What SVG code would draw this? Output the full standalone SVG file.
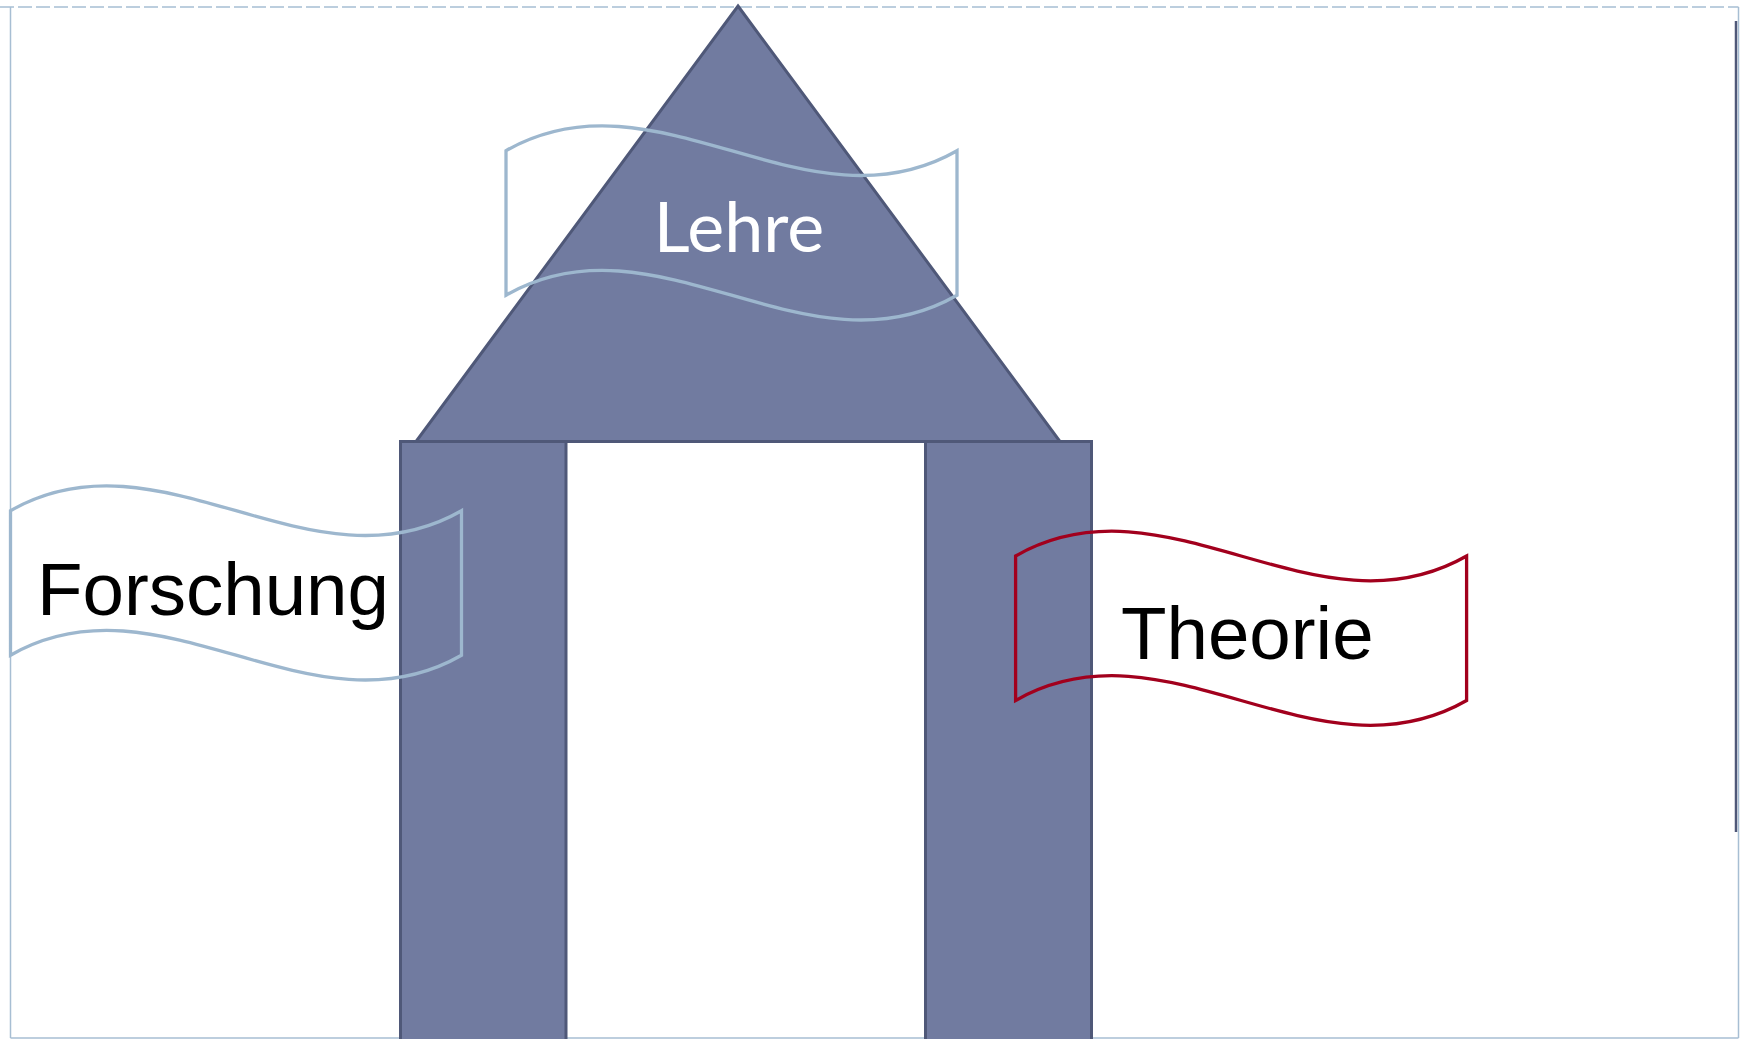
<svg xmlns="http://www.w3.org/2000/svg" width="1740" height="1039" viewBox="0 0 1740 1039">
<style>
.frame{fill:none;stroke:#A7BED3;stroke-width:1.5}
.block{fill:#717BA0;stroke:#4F5878;stroke-width:3;stroke-linejoin:miter}
.wave{fill:none;stroke-width:3.3;stroke-linejoin:miter}
.light{stroke:#9DB7CE}
.red{stroke:#A2001D}
.lbl{font-family:"Liberation Sans",Arial,sans-serif;font-size:74.5px;fill:#000}
.lbl-w{font-family:Lato,"Liberation Sans",sans-serif;font-size:70px;fill:#fff;text-anchor:middle}
</style>
<rect width="1740" height="1039" fill="#fff"/>
<g id="frame">
<line x1="10.5" y1="7" x2="10.5" y2="1038" class="frame"/>
<line x1="10.5" y1="1038" x2="1738.5" y2="1038" class="frame"/>
<line x1="1738.5" y1="7" x2="1738.5" y2="1038" class="frame"/>
<line x1="0" y1="7" x2="1738.5" y2="7" class="frame" stroke-dasharray="14 4"/>
<line x1="1736" y1="21" x2="1736" y2="832" stroke="#4F5878" stroke-width="2.5"/>
</g>
<g id="pillar-left"><rect x="400.5" y="441.5" width="165.5" height="610" class="block"/></g>
<g id="pillar-right"><rect x="925.5" y="441.5" width="166" height="610" class="block"/></g>
<g id="roof">
<polygon points="738,6 1060,441.5 416,441.5" class="block"/>
</g>
<g id="lehre">
<path class="wave light" d="M506,150.7 C656.3,64.7 806.7,236.7 957,150.7 L957,295.2 C806.7,381.2 656.3,209.2 506,295.2 Z"/>
<text x="739" y="252" class="lbl-w">Lehre</text>
</g>
<g id="forschung">
<path class="wave light" d="M10.5,510.7 C160.8,424.7 311.2,596.7 461.5,510.7 L461.5,655.2 C311.2,741.2 160.8,569.2 10.5,655.2 Z"/>
<text x="37" y="615" class="lbl">Forschung</text>
</g>
<g id="theorie">
<path class="wave red" d="M1015.6,556 C1165.9,470 1316.3,642 1466.6,556 L1466.6,700.5 C1316.3,786.5 1165.9,614.5 1015.6,700.5 Z"/>
<text x="1121" y="659.3" class="lbl">Theorie</text>
</g>
<g id="connectors"></g>
</svg>
